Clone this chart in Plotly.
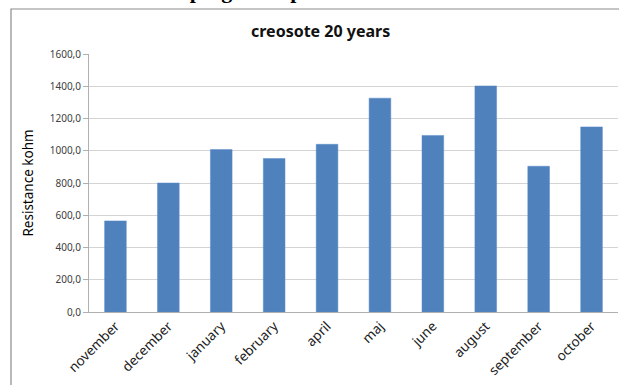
import plotly.graph_objects as go

months = ["november", "december", "january", "february", "april",
          "maj", "june", "august", "september", "october"]
resistance = [565, 800, 1007, 952, 1040, 1326, 1095, 1402, 904, 1148]
y_ticks = [0, 200, 400, 600, 800, 1000, 1200, 1400, 1600]
y_tick_text = ["0,0", "200,0", "400,0", "600,0", "800,0", "1000,0",
               "1200,0", "1400,0", "1600,0"]

W, H = 619, 385
L, R, T, B = 89, 618, 54, 312

def px_x(p):
    return (p - L) / (R - L)

def px_y(p):
    return (B - p) / (B - T)

fig = go.Figure(go.Bar(
    x=months, y=resistance,
    marker=dict(color="#4f81bd", line=dict(color="#5b8ac4", width=0.5)),
    width=0.41,
))

fig.update_layout(
    width=W, height=H,
    margin=dict(l=L, r=W - R, t=T, b=H - B, pad=0),
    paper_bgcolor="white", plot_bgcolor="white",
    showlegend=False,
    font=dict(family="Noto Sans", color="#404040"),
    xaxis=dict(
        tickangle=-45, tickfont=dict(size=13.5, color="#222222"),
        showline=True, linecolor="#b0b0b0", linewidth=1,
        showgrid=False, ticks="",
    ),
    yaxis=dict(
        range=[0, 1600], tickvals=y_ticks, ticktext=y_tick_text,
        tickfont=dict(size=10, color="#404040"),
        showgrid=True, gridcolor="#d4d4d4", gridwidth=1,
        showline=True, linecolor="#b0b0b0", linewidth=1,
        ticks="outside", ticklen=5, tickcolor="#b0b0b0",
        zeroline=False,
        title=dict(text="Resistance kohm", font=dict(size=13.5, color="#000000"),
                   standoff=12),
    ),
    shapes=[dict(type="rect", xref="paper", yref="paper",
                 x0=px_x(11), x1=px_x(640), y0=px_y(9), y1=px_y(420),
                 line=dict(color="#8c8c8c", width=1.2), layer="below")],
    annotations=[
        dict(text="<b>creosote 20 years</b>", xref="paper", yref="paper",
             x=px_x(320), y=px_y(31), xanchor="center", yanchor="middle",
             showarrow=False, font=dict(size=16, color="#111111")),
        dict(text="<b>ted a second impregnated pole</b>", xref="paper", yref="paper",
             x=px_x(332), y=px_y(5), xanchor="right", yanchor="bottom",
             showarrow=False,
             font=dict(family="Liberation Serif", size=22, color="#000000")),
    ],
)

fig.write_html("out.html")
